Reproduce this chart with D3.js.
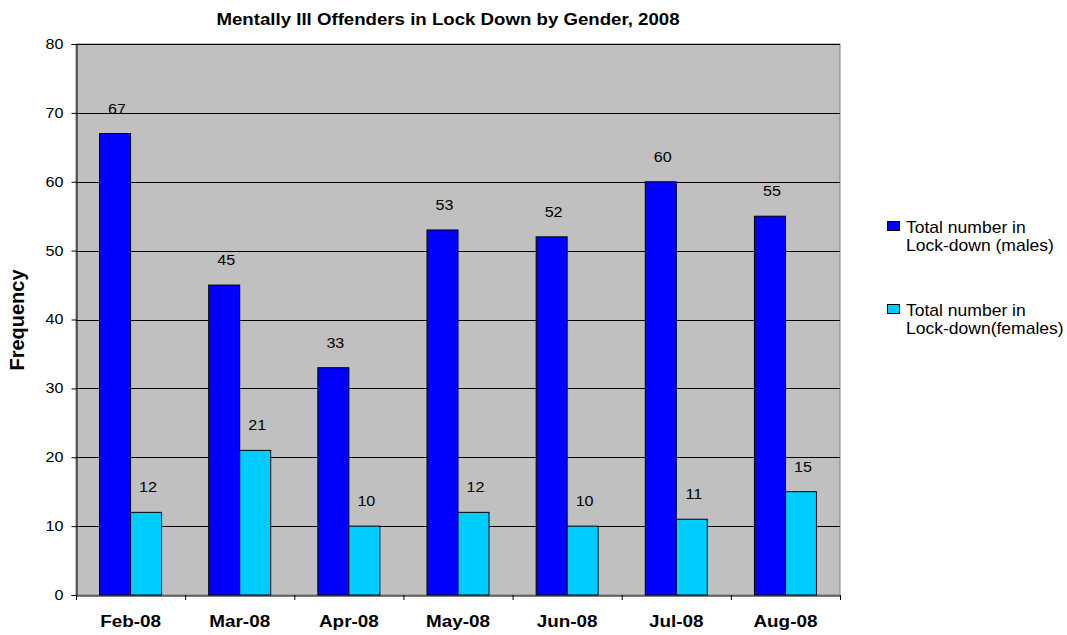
<!DOCTYPE html>
<html><head><meta charset="utf-8">
<script src="https://cdn.jsdelivr.net/npm/d3@7"></script>
<style>body{margin:0;background:#fff;}svg{display:block;font-family:"Liberation Sans",Arial,sans-serif;}</style>
</head><body>
<script>
const categories = ["Feb-08","Mar-08","Apr-08","May-08","Jun-08","Jul-08","Aug-08"];
const males = [67,45,33,53,52,60,55];
const females = [12,21,10,12,10,11,15];
const seriesNames = ["Total number in|Lock-down (males)","Total number in|Lock-down(females)"];
const seriesColors = ["#0000ff","#00ccff"];
const yTicks = [0,10,20,30,40,50,60,70,80];

const W=1067,H=635;
const m={left:76,top:44,right:840,bottom:595};
const svg=d3.select("body").append("svg").attr("width",W).attr("height",H);

function stretch(sel,sx){
  sel.each(function(){
    const L=this.getComputedTextLength();
    d3.select(this).attr("textLength",L*sx).attr("lengthAdjust","spacingAndGlyphs");
  });
}

const x=d3.scaleBand().domain(categories).range([m.left,m.right]);
const y=d3.scaleLinear().domain([0,80]).range([m.bottom,m.top]);

svg.append("rect").attr("x",m.left).attr("y",m.top).attr("width",m.right-m.left).attr("height",m.bottom-m.top)
  .attr("fill","#c0c0c0").attr("stroke","#808080").attr("stroke-width",1);

// gridlines
svg.append("g").selectAll("line").data(yTicks.slice(1)).join("line")
  .attr("x1",m.left).attr("x2",m.right).attr("y1",d=>Math.round(y(d))+0.5).attr("y2",d=>Math.round(y(d))+0.5)
  .attr("stroke","#000").attr("stroke-width",1);

const data=[males,females];
const bw=x.bandwidth();
const barW=31, offset=(bw-2*barW)/2;
data.forEach((vals,si)=>{
  const g=svg.append("g");
  g.selectAll("rect").data(vals).join("rect")
    .attr("x",(d,i)=>x(categories[i])+offset+si*barW)
    .attr("y",d=>y(d))
    .attr("width",barW).attr("height",d=>y(0)-y(d))
    .attr("fill",seriesColors[si]).attr("stroke","#000").attr("stroke-width",1);
  const t=g.selectAll("text").data(vals).join("text")
    .attr("x",(d,i)=>x(categories[i])+offset+si*barW+barW/2+2)
    .attr("y",d=>y(d)-20)
    .attr("text-anchor","middle").attr("font-size",14)
    .text(d=>d);
  stretch(t,1.15);
});

// y axis
const ya=svg.append("g").attr("transform",`translate(${m.left+0.5},0)`)
  .call(d3.axisLeft(y).tickValues(yTicks).tickSize(5).tickPadding(8));
ya.select(".domain").attr("stroke","#000");
ya.selectAll(".tick line").attr("stroke","#000");
const yt=ya.selectAll("text").attr("font-size",14).attr("font-family","Liberation Sans, Arial, sans-serif").attr("fill","#000");
stretch(yt,1.15);

// x axis
const xa=svg.append("g").attr("transform",`translate(0,${m.bottom+0.5})`)
  .call(d3.axisBottom(x).tickSize(0).tickPadding(0));
xa.select(".domain").attr("stroke","#000");
const xt=xa.selectAll("text").attr("font-size",16).attr("font-weight","bold").attr("font-family","Liberation Sans, Arial, sans-serif").attr("fill","#000")
  .attr("dy",null).attr("y",31);
stretch(xt,1.18);
svg.append("g").selectAll("line").data(d3.range(categories.length+1)).join("line")
  .attr("x1",i=>m.left+i*bw+0.5).attr("x2",i=>m.left+i*bw+0.5)
  .attr("y1",m.bottom).attr("y2",m.bottom+5).attr("stroke","#000");

// title
const title=svg.append("text").attr("x",448).attr("y",25).attr("text-anchor","middle")
  .attr("font-size",16.5).attr("font-weight","bold").text("Mentally Ill Offenders in Lock Down by Gender, 2008");
stretch(title,1.13);

// y title
svg.append("text").attr("transform",`translate(24,320) rotate(-90)`)
  .attr("text-anchor","middle").attr("font-size",20).attr("font-weight","bold").text("Frequency");

// legend
const lg=svg.append("g");
seriesNames.forEach((n,i)=>{
  const yy=221+i*83;
  lg.append("rect").attr("x",887.5).attr("y",yy+0.5).attr("width",12).attr("height",9)
    .attr("fill",seriesColors[i]).attr("stroke","#000");
  const t=lg.append("text").attr("x",906).attr("y",yy+12).attr("font-size",17);
  n.split("|").forEach((line,j)=>t.append("tspan").attr("x",906).attr("dy",j?17.5:0).text(line));
  stretch(t.selectAll("tspan"),1.03);
});
</script>
</body></html>
